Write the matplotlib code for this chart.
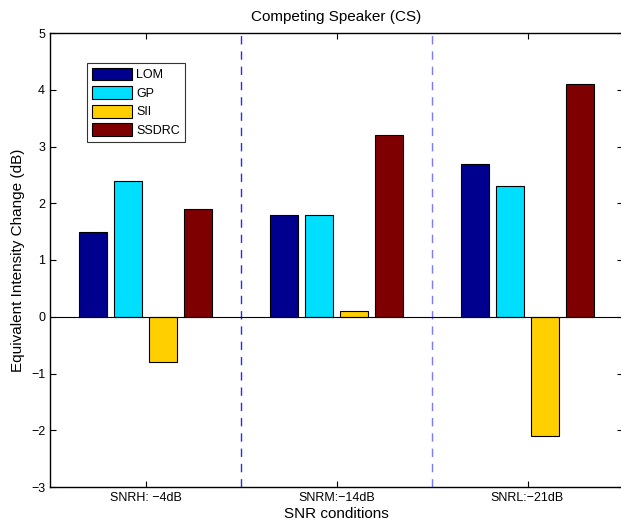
import matplotlib.pyplot as plt
import numpy as np

plt.rcParams['font.family'] = ['Liberation Sans', 'DejaVu Sans']

conditions = ['SNRH: \u22124dB', 'SNRM:\u221214dB', 'SNRL:\u221221dB']
methods = ['LOM', 'GP', 'SII', 'SSDRC']
lom = [1.5, 1.8, 2.7]
gp = [2.4, 1.8, 2.3]
sii = [-0.8, 0.1, -2.1]
ssdrc = [1.9, 3.2, 4.1]
colors = ['#00008f', '#00dfff', '#ffcf00', '#7f0000']

fig = plt.figure(figsize=(6.21, 5.22), dpi=100)
ax = fig.add_axes([50 / 621, 1 - 487 / 522, 573 / 621, 454 / 522])

x = np.arange(1, len(conditions) + 1)
step = 0.183
width = 0.147
for i, (vals, c, name) in enumerate(zip([lom, gp, sii, ssdrc], colors, methods)):
    ax.bar(x + (i - 1.5) * step, vals, width, color=c, edgecolor='black',
           linewidth=0.8, label=name, zorder=2)

ax.axhline(0, color='black', linewidth=0.8, zorder=3)
ax.axvline(1.5, color='#2a2aff', linestyle=(0, (6, 5)), linewidth=1.0, zorder=1)
ax.axvline(2.5, color='#7a7aff', linestyle=(0, (6, 5)), linewidth=1.0, zorder=1)

ax.set_xlim(0.5, 3.5)
ax.set_ylim(-3, 5)
ax.set_xticks(x)
ax.set_xticklabels(conditions, fontsize=9)
ax.set_yticks(range(-3, 6))
ax.tick_params(axis='y', labelsize=9)
ax.tick_params(direction='in', top=True, right=True, length=4, width=0.8)
for s in ax.spines.values():
    s.set_linewidth(1.0)

ax.set_xlabel('SNR conditions', fontsize=11, labelpad=2)
ax.set_ylabel('Equivalent Intensity Change (dB)', fontsize=11)
ax.set_title('Competing Speaker (CS)', fontsize=11, pad=9)

leg = ax.legend(loc='upper left', bbox_to_anchor=(0.065, 0.935), fontsize=9,
                frameon=True, fancybox=False, edgecolor='black',
                handlelength=3.2, handleheight=1.2, handletextpad=0.3,
                labelspacing=0.4, borderpad=0.4, borderaxespad=0)
leg.get_frame().set_linewidth(0.8)

fig.savefig('out.png', dpi=100)
